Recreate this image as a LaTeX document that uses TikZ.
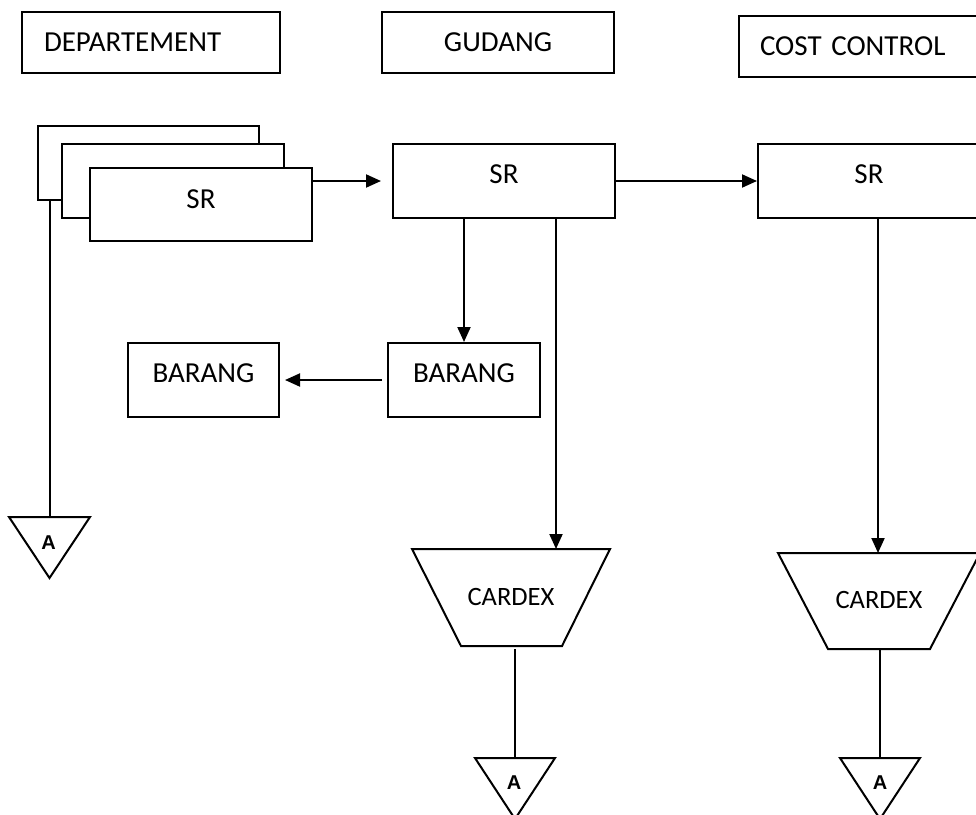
\documentclass[tikz,border=0pt]{standalone}
\usepackage{fontspec}
\setmainfont{Carlito}
\newfontfamily\afont{Liberation Sans}
\usetikzlibrary{arrows.meta,calc}
\begin{document}
\begin{tikzpicture}[x=1pt,y=-1pt,
  line/.style={line width=2pt},
  box/.style={line, draw, fill=white, font=\fontsize{29}{30}\selectfont, inner sep=0pt},
  upper/.style={text height=18pt, text depth=14pt},
  arr/.style={line, -{Triangle[length=15pt,width=13pt]}},
  cardtext/.style={font=\fontsize{26.5}{28}\selectfont, inner sep=0pt},
  shapeline/.style={line, draw, line join=miter},
  albl/.style={font=\afont\bfseries\fontsize{20}{22}\selectfont, inner sep=0pt}]
\useasboundingbox (0,0) rectangle (976,814);
\clip (0,0) rectangle (976,814);

% headers
\node[box, anchor=north west, minimum height=61pt, text width=214pt, inner xsep=22pt, align=left] (dep) at (21,11) {DEPARTEMENT};
\node[box, anchor=north west, minimum width=232pt, minimum height=61pt] (gud) at (381,11) {GUDANG};
\node[box, anchor=north west, minimum height=61pt, text width=216pt, inner xsep=21pt, align=left] (cc) at (738,15) {COST CONTROL};

% stacked SR documents
\node[box, anchor=north west, minimum width=221pt, minimum height=74pt] (doc3) at (37,125) {};
\node[box, anchor=north west, minimum width=222pt, minimum height=74pt] (doc2) at (61,143) {};
\node[box, upper, text depth=11pt, anchor=north west, minimum width=222pt, minimum height=73pt] (srD) at (89,167) {SR};

% SR boxes
\node[box, upper, anchor=north west, minimum width=222pt, minimum height=74pt] (srG) at (392,143) {SR};
\node[box, upper, anchor=north west, minimum width=222pt, minimum height=74pt] (srC) at (757,143) {SR};

% BARANG boxes
\node[box, upper, anchor=north west, minimum width=152pt, minimum height=74pt] (brG) at (387,342) {BARANG};
\node[box, upper, anchor=north west, minimum width=151pt, minimum height=74pt] (brL) at (127,342) {BARANG};

% CARDEX (trapezoids)
\node[cardtext] (cdG) at (511,597) {CARDEX};
\node[cardtext] (cdC) at (879,600) {CARDEX};
\coordinate (cdGtop) at ($(cdG)+(0,-48)$);
\coordinate (cdGbot) at ($(cdG)+(0,49)$);
\coordinate (cdCtop) at ($(cdC)+(0,-47)$);
\coordinate (cdCbot) at ($(cdC)+(0,49)$);
\draw[shapeline] ($(cdGtop)+(-99,0)$) -- ($(cdGtop)+(99,0)$) -- ($(cdGbot)+(51,0)$) -- ($(cdGbot)+(-50,0)$) -- cycle;
\draw[shapeline] ($(cdCtop)+(-101,0)$) -- ($(cdCtop)+(101,0)$) -- ($(cdCbot)+(51,0)$) -- ($(cdCbot)+(-51,0)$) -- cycle;

% off-page connectors
\coordinate (tL) at (49.5,517);
\coordinate (tG) at (515,758);
\coordinate (tC) at (880,758);
\draw[shapeline] ($(tL)+(-40.5,0)$) -- ($(tL)+(40.5,0)$) -- ($(tL)+(0,61)$) -- cycle;
\draw[shapeline] ($(tG)+(-40,0)$) -- ($(tG)+(40,0)$) -- ($(tG)+(0,61)$) -- cycle;
\draw[shapeline] ($(tC)+(-40,0)$) -- ($(tC)+(40,0)$) -- ($(tC)+(0,61)$) -- cycle;
\node[albl] (aL) at ($(tL)+(-1,26)$) {A};
\node[albl] (aG) at ($(tG)+(-1,25)$) {A};
\node[albl] (aC) at ($(tC)+(0,25)$) {A};

% connectors
\draw[arr, shorten >=11pt] (srD.east |- srG.west) -- (srG.west);
\draw[arr] (srG) -- (srC);
\draw[arr] (srG.south -| brG.north) -- (brG.north);
\draw[arr] ([xshift=52pt]srG.south) -- ([xshift=52pt]srG.south |- cdGtop);
\draw[arr] ([xshift=9pt]srC.south) -- ([xshift=9pt]srC.south |- cdCtop);
\draw[arr, shorten <=5pt, shorten >=5pt] (brG) -- (brL);
\draw[line] (tL |- doc3.south) -- (tL);
\draw[line] ([yshift=-3pt]tG |- cdGbot) -- (tG);
\draw[line] (tC |- cdCbot) -- (tC);
\end{tikzpicture}
\end{document}
